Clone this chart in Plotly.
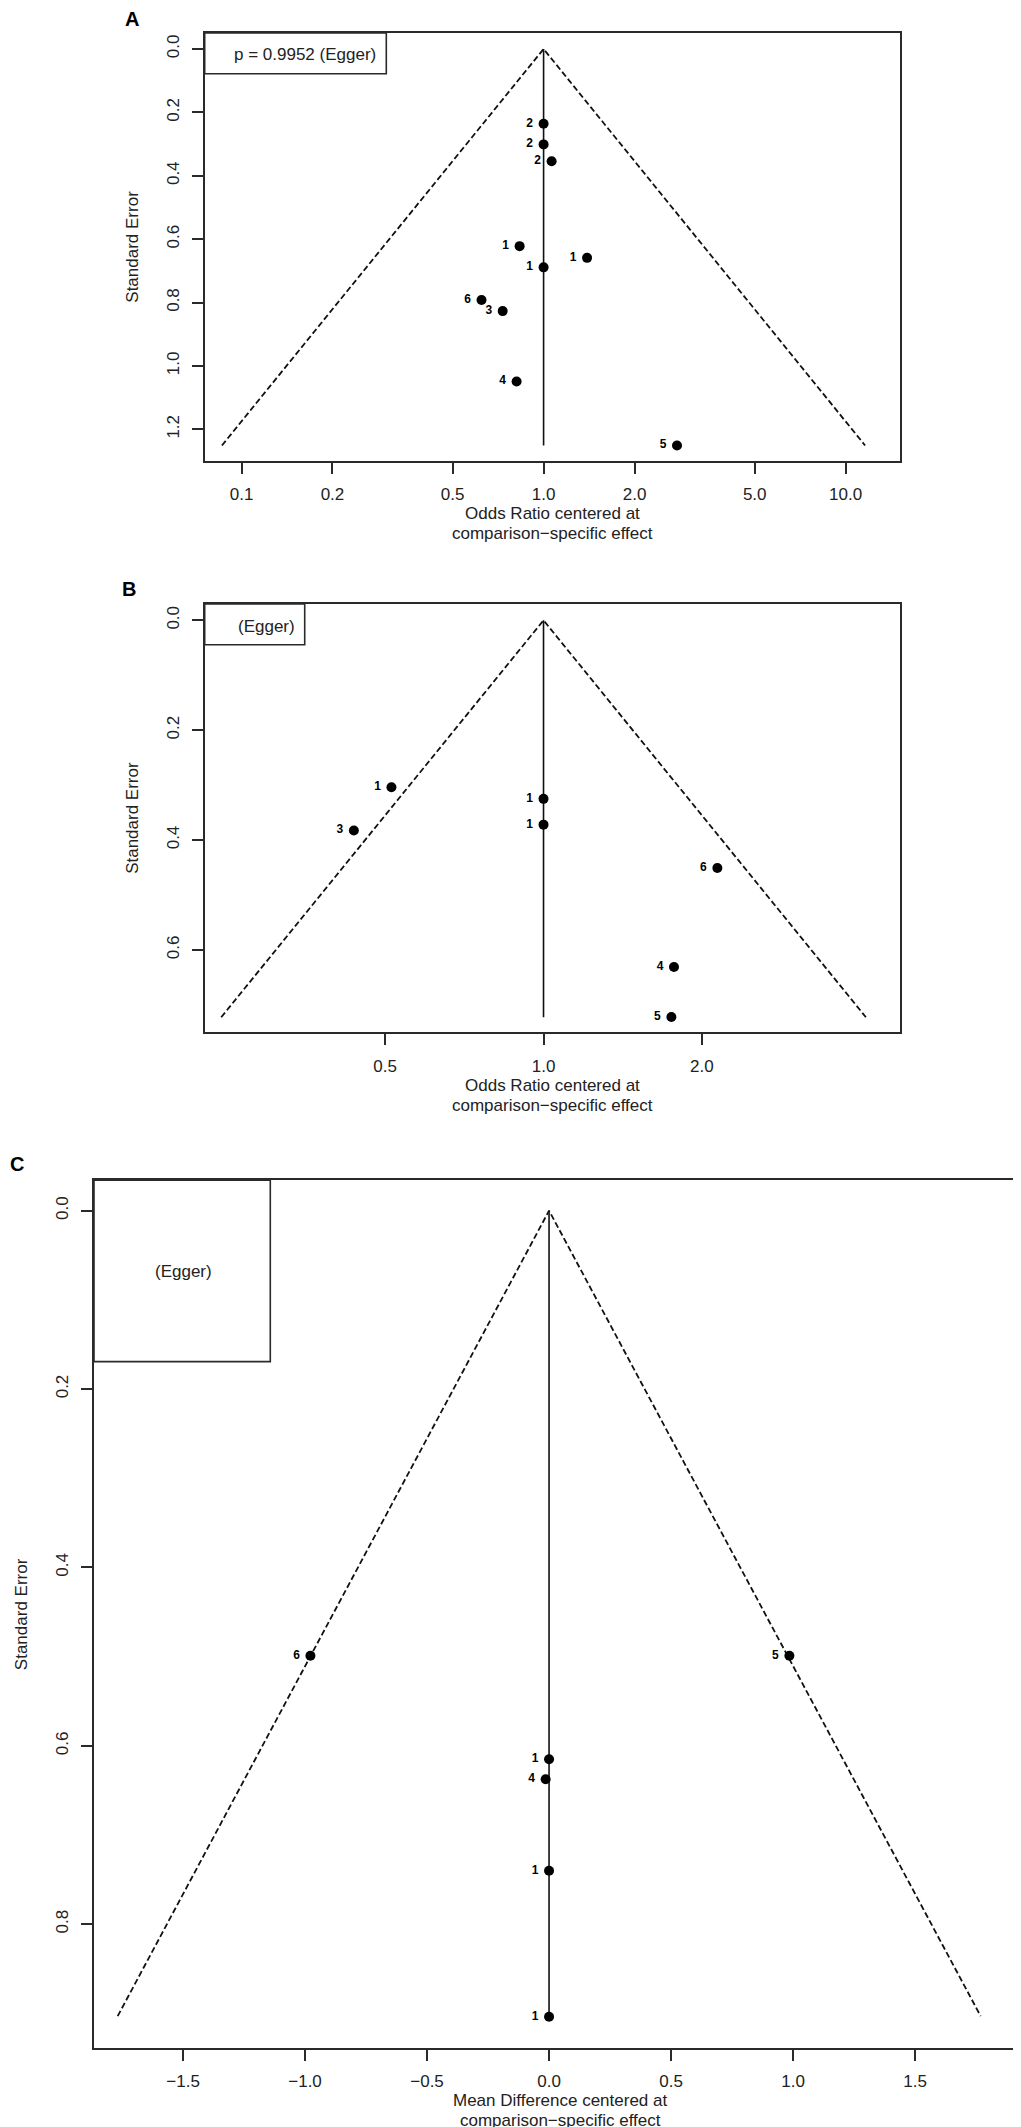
import plotly.graph_objects as go

# ---------------- data ----------------
# Panel A: odds ratio funnel plot
A_or = [1.0, 1.0, 1.063, 0.833, 1.393, 1.0, 0.623, 0.732, 0.814, 2.765]
A_se = [0.236, 0.301, 0.354, 0.622, 0.659, 0.689, 0.792, 0.827, 1.049, 1.251]
A_lab = ["2", "2", "2", "1", "1", "1", "6", "3", "4", "5"]
A_funnel_x = [0.0861, 1.0, 11.6]
A_funnel_se = [1.251, 0.0, 1.251]
A_xticks = [0.1, 0.2, 0.5, 1.0, 2.0, 5.0, 10.0]
A_xticktext = ["0.1", "0.2", "0.5", "1.0", "2.0", "5.0", "10.0"]
A_yticks = [0.0, 0.2, 0.4, 0.6, 0.8, 1.0, 1.2]
A_legend = "p = 0.9952 (Egger)"

# Panel B: odds ratio funnel plot
B_or = [0.514, 0.436, 1.0, 1.0, 2.14, 1.77, 1.75]
B_se = [0.304, 0.3825, 0.325, 0.372, 0.451, 0.631, 0.722]
B_lab = ["1", "3", "1", "1", "6", "4", "5"]
B_funnel_x = [0.244, 1.0, 4.10]
B_funnel_se = [0.7226, 0.0, 0.7226]
B_xticks = [0.5, 1.0, 2.0]
B_xticktext = ["0.5", "1.0", "2.0"]
B_yticks = [0.0, 0.2, 0.4, 0.6]
B_legend = "(Egger)"

# Panel C: mean difference funnel plot
C_md = [-0.978, 0.985, 0.0, -0.014, 0.0, 0.0]
C_se = [0.499, 0.499, 0.615, 0.6375, 0.740, 0.9036]
C_lab = ["6", "5", "1", "4", "1", "1"]
C_funnel_x = [-1.768, 0.0, 1.769]
C_funnel_se = [0.903, 0.0, 0.903]
C_xticks = [-1.5, -1.0, -0.5, 0.0, 0.5, 1.0, 1.5]
C_xticktext = ["\u22121.5", "\u22121.0", "\u22120.5", "0.0", "0.5", "1.0", "1.5"]
C_yticks = [0.0, 0.2, 0.4, 0.6, 0.8]
C_legend = "(Egger)"

Y_TITLE = "Standard Error"
OR_TITLE = ["Odds Ratio centered at", "comparison\u2212specific effect"]
MD_TITLE = ["Mean Difference centered at", "comparison\u2212specific effect"]

# ---------------- styling ----------------
FONT = "Liberation Sans"
INK = "#111111"
TXT = "#222222"
FRAME = "#2a2a2a"
W, H = 1021, 2127

fig = go.Figure()


def add_panel(n, xs, ses, labs, fx, fse):
    xa = "x" if n == 1 else f"x{n}"
    ya = "y" if n == 1 else f"y{n}"
    center = fx[1]
    fig.add_trace(go.Scatter(x=fx, y=fse, mode="lines", xaxis=xa, yaxis=ya,
                             line=dict(color=INK, width=1.8, dash="6px,3px"),
                             hoverinfo="skip", showlegend=False))
    fig.add_trace(go.Scatter(x=[center, center], y=[fse[1], fse[0]], mode="lines",
                             xaxis=xa, yaxis=ya, line=dict(color=INK, width=1.6),
                             hoverinfo="skip", showlegend=False))
    fig.add_trace(go.Scatter(x=xs, y=ses, mode="markers+text",
                             text=[lab + "\u00a0" for lab in labs],
                             textposition="middle left", xaxis=xa, yaxis=ya,
                             marker=dict(color="#000000", size=10, symbol="circle"),
                             textfont=dict(family=FONT, size=12, color="#000000",
                                           weight="bold"),
                             showlegend=False))


add_panel(1, A_or, A_se, A_lab, A_funnel_x, A_funnel_se)
add_panel(2, B_or, B_se, B_lab, B_funnel_x, B_funnel_se)
add_panel(3, C_md, C_se, C_lab, C_funnel_x, C_funnel_se)


def px_domain_x(left, right):
    return [left / W, right / W]


def px_domain_y(top, bottom):
    return [(H - bottom) / H, (H - top) / H]


axis_common = dict(showgrid=False, zeroline=False, showline=True, linecolor=FRAME,
                   linewidth=1.6, mirror=True, ticks="outside", ticklen=11,
                   tickwidth=1.6, tickcolor=FRAME,
                   tickfont=dict(family=FONT, size=17, color=TXT))


def yfmt(v):
    return f"{v:.1f}"


panels = [
    dict(n=1, xdom=px_domain_x(196.7, 891.7), ydom=px_domain_y(25, 453), xtype="log",
         xrange=[-1.122, 1.179], yrange=[1.300, -0.0505], xt=A_xticks, xtt=A_xticktext,
         yt=A_yticks),
    dict(n=2, xdom=px_domain_x(196.7, 891.7), ydom=px_domain_y(596, 1024.3), xtype="log",
         xrange=[-0.644, 0.677], yrange=[0.750, -0.0297], xt=B_xticks, xtt=B_xticktext,
         yt=B_yticks),
    dict(n=3, xdom=px_domain_x(86, 1018.3), ydom=px_domain_y(1172.3, 2040), xtype="linear",
         xrange=[-1.865, 1.956], yrange=[0.9387, -0.034], xt=C_xticks, xtt=C_xticktext,
         yt=C_yticks),
]

layout = dict(width=W, height=H, margin=dict(l=0, r=0, t=0, b=0),
              paper_bgcolor="white", plot_bgcolor="white", showlegend=False,
              font=dict(family=FONT, color=TXT))

for p in panels:
    n = p["n"]
    xk = "xaxis" if n == 1 else f"xaxis{n}"
    yk = "yaxis" if n == 1 else f"yaxis{n}"
    xa = "x" if n == 1 else f"x{n}"
    ya = "y" if n == 1 else f"y{n}"
    layout[xk] = dict(domain=p["xdom"], anchor=ya, type=p["xtype"], range=p["xrange"],
                      tickmode="array", tickvals=p["xt"], ticktext=p["xtt"],
                      ticklabelstandoff=6, **axis_common)
    layout[yk] = dict(domain=p["ydom"], anchor=xa, range=p["yrange"], tickmode="array",
                      tickvals=p["yt"], ticktext=[yfmt(v) for v in p["yt"]], tickangle=-90,
                      ticklabelstandoff=6, **axis_common)

fig.update_layout(**layout)

annots = []
shapes = []


def dref(n, ax):
    base = ax if n == 1 else f"{ax}{n}"
    return base + " domain"


titles = {1: OR_TITLE, 2: OR_TITLE, 3: MD_TITLE}
for p in panels:
    n = p["n"]
    xr, yr = dref(n, "x"), dref(n, "y")
    # x-axis title (two lines)
    for i, line in enumerate(titles[n]):
        annots.append(dict(text=line, xref=xr, yref=yr, x=0.5, y=0, xanchor="center",
                           yanchor="middle", yshift=-52.7 - 20 * i, showarrow=False,
                           font=dict(family=FONT, size=17, color=TXT)))
    # y-axis title
    annots.append(dict(text=Y_TITLE, xref=xr, yref=yr, x=0, y=0.5, xanchor="center",
                       yanchor="middle", xshift=-73, textangle=-90, showarrow=False,
                       font=dict(family=FONT, size=17, color=TXT)))

# legend boxes (Egger)
leg = [
    (1, 0.2613, 0.9049, A_legend, 0.2494, 0.9486, "right"),
    (2, 0.1439, 0.905, B_legend, 0.1328, 0.948, "right"),
    (3, 0.1891, 0.791, C_legend, 0.0955, 0.895, "center"),
]
for n, bx, by, txt, tx, ty, anc in leg:
    xr, yr = dref(n, "x"), dref(n, "y")
    shapes.append(dict(type="rect", xref=xr, yref=yr, x0=0, x1=bx, y0=by, y1=1,
                       line=dict(color=FRAME, width=1.6), fillcolor="rgba(0,0,0,0)"))
    annots.append(dict(text=txt, xref=xr, yref=yr, x=tx, y=ty, xanchor=anc,
                       yanchor="middle", showarrow=False,
                       font=dict(family=FONT, size=17, color=TXT)))

# panel letters
for letter, lx, ly in [("A", 123.5, 11.5), ("B", 121, 581), ("C", 8.5, 1156)]:
    annots.append(dict(text=f"<b>{letter}</b>", xref="paper", yref="paper",
                       x=lx / W, y=(H - ly) / H, xanchor="center", yanchor="middle",
                       showarrow=False, font=dict(family=FONT, size=20, color="#000000")))

fig.update_layout(annotations=annots, shapes=shapes)
fig.write_html("out.html")
